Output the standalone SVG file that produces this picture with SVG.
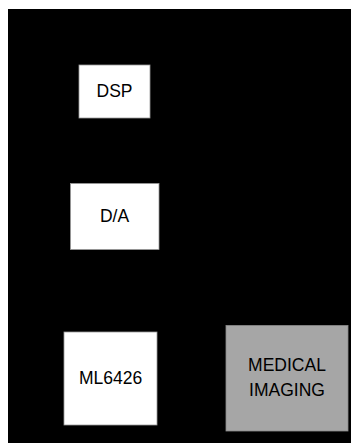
<svg xmlns="http://www.w3.org/2000/svg" width="351" height="443" viewBox="0 0 351 443">
<style>
.box{fill:#ffffff;stroke:#9a9a9a;stroke-width:0.8}
.gray{fill:#a6a6a6;stroke:#8a8a8a;stroke-width:0.8}
text{font-family:"Liberation Sans",Arial,sans-serif;font-size:17.5px;fill:#000;text-anchor:middle}
</style>
<rect x="0" y="0" width="351" height="443" fill="#ffffff"/>
<rect x="8" y="9" width="343" height="434" fill="#000000"/>
<g id="connectors"></g>
<g id="dsp">
<rect class="box" x="79" y="65" width="71" height="53"/>
<text x="114.5" y="97">DSP</text>
</g>
<g id="da">
<rect class="box" x="70.5" y="183.5" width="88.5" height="66"/>
<text x="114.5" y="222">D/A</text>
</g>
<g id="ml6426">
<rect class="box" x="64" y="332" width="93" height="93"/>
<text x="110.5" y="384">ML6426</text>
</g>
<g id="medical">
<rect class="gray" x="226" y="325.5" width="122" height="105.5"/>
<text x="287" y="371">MEDICAL</text>
<text x="287" y="396">IMAGING</text>
</g>
</svg>
